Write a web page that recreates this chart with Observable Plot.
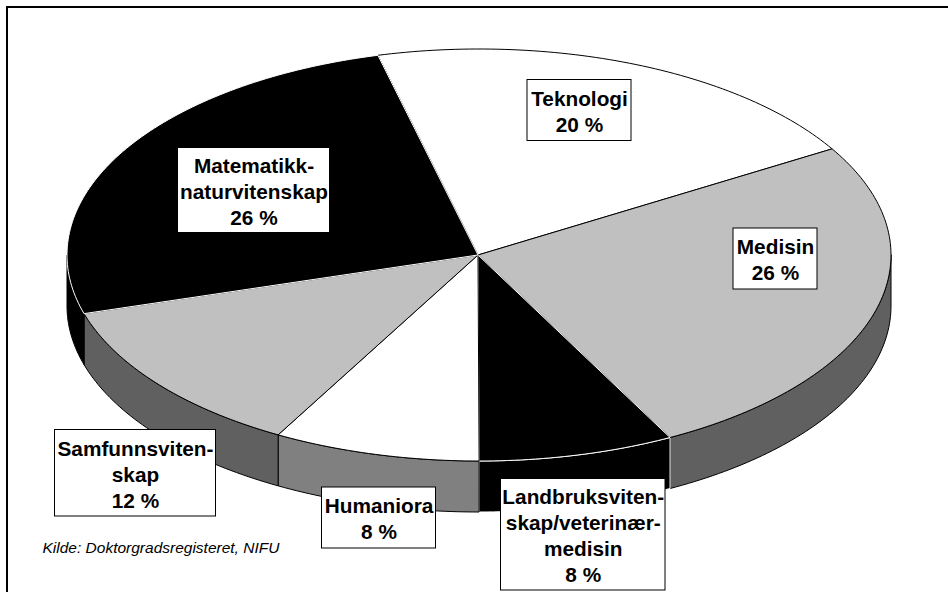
<!DOCTYPE html>
<html>
<head>
<meta charset="utf-8">
<script src="https://cdn.jsdelivr.net/npm/d3@7"></script>
<script src="https://cdn.jsdelivr.net/npm/@observablehq/plot@0.6"></script>
<style>html,body{margin:0;padding:0;background:#fff}svg{display:block}</style>
</head>
<body>
<div id="chart"></div>
<script>
// Data: the slices as drawn, and the rounded labels printed on them
const categories = ["Teknologi", "Medisin", "Landbruksvitenskap/veterinærmedisin", "Humaniora", "Samfunnsvitenskap", "Matematikk-naturvitenskap"];
const shares = [20.33, 25.94, 7.67, 8.11, 12.3, 25.65];
const labels = ["Teknologi\n20 %", "Medisin\n26 %", "Landbruksviten-\nskap/veterinær-\nmedisin\n8 %", "Humaniora\n8 %", "Samfunnsviten-\nskap\n12 %", "Matematikk-\nnaturvitenskap\n26 %"];
const source = "Kilde: Doktorgradsregisteret, NIFU";

// Styles
const topFill = ["#ffffff", "#c0c0c0", "#000000", "#ffffff", "#c0c0c0", "#000000"];
const topStroke = ["#000000", "#000000", "#ffffff", "#000000", "#000000", "#ffffff"];
const sideFill = ["#ffffff", "#606060", "#000000", "#808080", "#606060", "#000000"];
const sideStroke = ["#000000", "#000000", "#ffffff", "#000000", "#000000", "#000000"];

// Layout: pie geometry and label boxes [left, right, top, bottom]
const cx = 478.5, cy = 254.5, rx = 412, ry = 206, depth = 51, startDeg = -14.2;
const boxes = [[527, 631, 79.5, 140.5], [733, 817, 228, 289], [500.5, 665, 478.5, 590], [321.5, 435.5, 487, 548], [54.5, 215.5, 429.5, 516], [177.5, 329.5, 147.5, 232.5]];

const rad = d => d * Math.PI / 180;
const px = a => cx + rx * Math.sin(rad(a));
const py = a => cy - ry * Math.cos(rad(a));
const arc = (a0, a1) => {
  const n = Math.max(2, Math.ceil((a1 - a0) / 1));
  return d3.range(n + 1).map(i => a0 + (a1 - a0) * i / n);
};

let acc = startDeg;
const slices = shares.map((v, i) => {
  const a0 = acc; acc += v * 3.6;
  return {i, a0, a1: acc};
});

// The rim is only visible on the front half of the ellipse
const sides = slices.flatMap(s => {
  const a0 = Math.max(s.a0, 90), a1 = Math.min(s.a1, 270);
  if (a1 <= a0) return [];
  const angles = arc(a0, a1);
  const pts = [
    ...angles.map(a => ({x: px(a), y: py(a)})),
    ...angles.slice().reverse().map(a => ({x: px(a), y: py(a) + depth}))
  ];
  pts.push(pts[0]);
  return [Plot.line(pts, {x: "x", y: "y", fill: sideFill[s.i], stroke: sideStroke[s.i], strokeWidth: 1, curve: "linear"})];
});

const tops = slices.map(s => {
  const pts = [{x: cx - 1, y: cy}, ...arc(s.a0, s.a1).map(a => ({x: px(a), y: py(a)})), {x: cx - 1, y: cy}];
  return Plot.line(pts, {x: "x", y: "y", fill: topFill[s.i], stroke: topStroke[s.i], strokeWidth: 1, curve: "linear"});
});

const labelRows = labels.map((text, i) => {
  const [l, r, t, b] = boxes[i];
  return {text, category: categories[i], l, r, t, b, mx: (l + r) / 2, my: (t + b) / 2};
});

const chart = Plot.plot({
  width: 948,
  height: 592,
  margin: 0,
  x: {domain: [0, 948], range: [0, 948], axis: null},
  y: {domain: [0, 592], range: [0, 592], axis: null},
  style: {background: "#fff"},
  marks: [
    Plot.ruleX([6.5], {y1: 6, y2: 592, stroke: "#000", strokeWidth: 2}),
    Plot.ruleY([6.5], {x1: 6, x2: 948, stroke: "#000", strokeWidth: 2}),
    ...sides,
    ...tops,
    Plot.rect(labelRows, {x1: "l", x2: "r", y1: "t", y2: "b", fill: "#fff", stroke: "#000", strokeWidth: 1}),
    Plot.text(labelRows, {x: "mx", y: "my", text: "text", fill: "#000", fontFamily: "Liberation Sans", fontWeight: "bold", fontSize: 20.8, lineHeight: 1.25, textAnchor: "middle"}),
    Plot.text([source], {x: () => 42, y: () => 548, text: d => d, fill: "#000", fontFamily: "Liberation Sans", fontStyle: "italic", fontSize: 15.5, textAnchor: "start"})
  ]
});
document.getElementById("chart").append(chart);
</script>
</body>
</html>
